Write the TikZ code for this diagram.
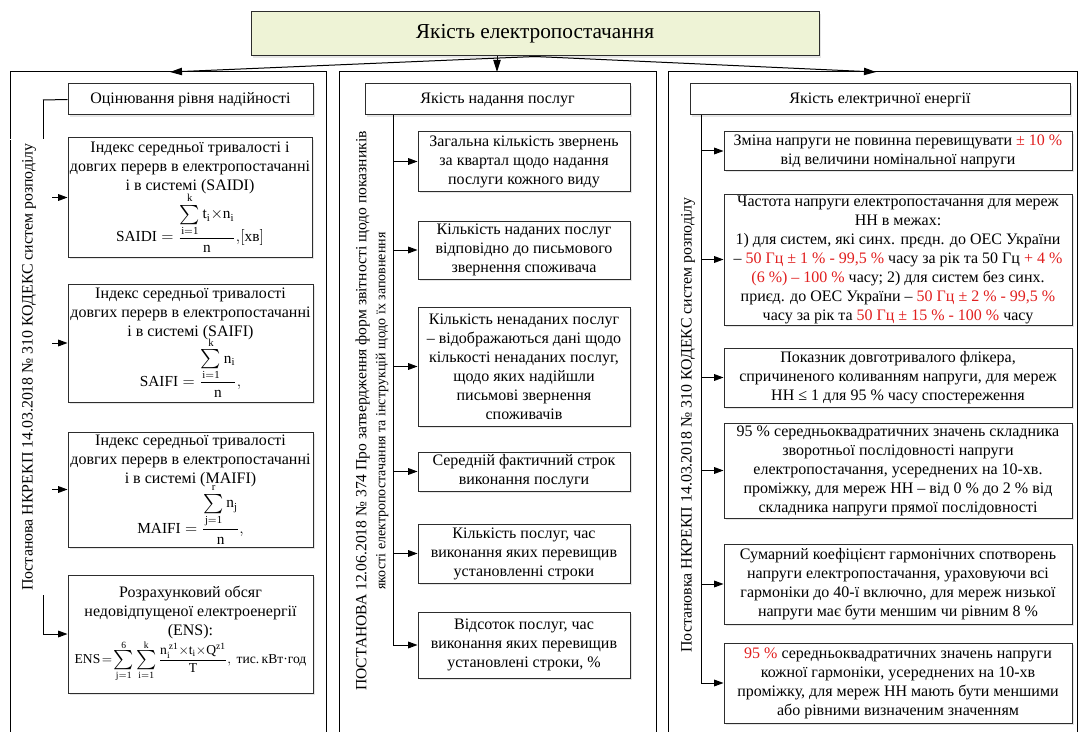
\documentclass[tikz,border=0pt]{standalone}
\usepackage{amsmath}
\usepackage{fontspec}
\setmainfont{Liberation Serif}
\setmathrm{Liberation Serif}
\usetikzlibrary{arrows.meta,shadows}
\definecolor{titlefill}{RGB}{238,243,214}
\definecolor{redt}{RGB}{225,30,30}
\definecolor{boxline}{RGB}{45,45,45}
\newcommand{\rd}[1]{\textcolor{redt}{#1}}
\newcommand{\nbox}[6]{\node[box,minimum width={(#4-#2)*0.75pt},minimum height={(#5-#3)*0.75pt}] (#1) at ({(#2+#4)/2},{(#3+#5)/2}) {#6};}
\newcommand{\fm}{\fontsize{11.5}{13}\selectfont}
\newcommand{\fe}{\fontsize{10.2}{12}\selectfont}
\newcommand{\lm}[1]{\mathrm{#1}}
\newcommand{\bsum}{\mathop{\vcenter{\hbox{\fontsize{13.5}{13.5}\selectfont$\textstyle\sum$}}}\limits}
\begin{document}
\begin{tikzpicture}[x=0.75pt,y=-0.75pt,
  box/.style={draw=boxline,line width=0.75pt,fill=white,align=center,inner sep=0pt,
    font=\fontsize{12}{14.25}\selectfont,
    drop shadow={shadow xshift=1.2pt,shadow yshift=-1.2pt,opacity=0.2}},
  frame/.style={draw=black,line width=0.75pt},
  ln/.style={line width=0.75pt},
  arr/.style={-{Triangle[length=7pt,width=5pt]},line width=0.75pt},
  arrT/.style={-{Triangle[length=9pt,width=5.5pt]},line width=0.75pt},
  side/.style={rotate=90,align=center,inner sep=3pt,font=\fontsize{11.9}{14.25}\selectfont}]
\useasboundingbox (0,0) rectangle (1080,731);
\clip (0,0) rectangle (1080,731);
% frames
\draw[frame] (10,760) -- (10,72) -- (326,72) -- (326,760);
\draw[frame] (339,760) -- (339,72) -- (656,72) -- (656,760);
\draw[frame] (668,760) -- (668,72) -- (1077,72) -- (1077,760);
\coordinate (fL) at (170,72);
\coordinate (fM) at (497,72);
\coordinate (fR) at (876,72);
% title
\node[box,fill=titlefill,font=\fontsize{16}{19}\selectfont,minimum width={(819-251)*0.75pt},minimum height={(56-12)*0.75pt}] (title) at (535,34) {Якість електропостачання};
\draw[arrT] (title.south) -- (fL);
\draw[arrT] (title.south) -- (fR);
\draw[arrT] (title.south -| fM) -- (fM);
% ---------- left column
\nbox{lh}{68}{84}{313}{115}{Оцінювання рівня надійності}
\nbox{saidi}{68}{138}{312}{257}{Індекс середньої тривалості і\\ довгих перерв в електропостачанні\\ і в системі (SAIDI)\\[-2pt]
 {\fm$\mathrm{SAIDI}=\dfrac{\bsum_{\lm{i=1}}^{\lm{k}}\mathrm{t_i{\times}n_i}}{\mathrm{n}},\!\left[\text{хв}\right]$}}
\nbox{saifi}{68}{284}{313}{402}{Індекс середньої тривалості\\ довгих перерв в електропостачанні\\ і в системі (SAIFI)\\[-3pt]
 {\fm$\mathrm{SAIFI}=\dfrac{\bsum_{\lm{i=1}}^{\lm{k}}\mathrm{n_i}}{\mathrm{n}},$}}
\nbox{maifi}{68}{432}{313}{547}{Індекс середньої тривалості\\ довгих перерв в електропостачанні\\ і в системі (MAIFI)\\[-3pt]
 {\fm$\mathrm{MAIFI}=\dfrac{\bsum_{\lm{j=1}}^{\lm{r}}\mathrm{n_j}}{\mathrm{n}},$}}
\nbox{ens}{68}{575}{313}{693}{Розрахунковий обсяг\\ недовідпущеної електроенергії\\ (ENS):\\[0pt]
 {\fe$\mathrm{ENS}\!=\!\bsum_{\lm{j=1}}^{\lm{6}}\bsum_{\lm{i=1}}^{\lm{k}}\dfrac{\mathrm{n_i^{\,z1}{\times}t_i{\times}Q^{z1}}}{\mathrm{T}},\ \text{тис.\,кВт·год}$}}
\coordinate (lv) at (43,100);
\draw[ln] (lh.west) -- (lv);
\draw[arr] (lv) |- (ens.west);
\draw[arr] (lv |- saidi.west) -- (saidi.west);
\draw[arr] (lv |- saifi.west) -- (saifi.west);
\draw[arr] (lv |- maifi.west) -- (maifi.west);
\node[side,fill=white,minimum height=46*0.75pt] (ls) at (29,367) {Постанова НКРЕКП 14.03.2018 № 310 КОДЕКС систем розподілу};
\draw[frame] (10,140) -- (10,600);
% ---------- middle column
\nbox{mh}{365}{84}{630}{115}{Якість надання послуг}
\nbox{m1}{418}{132}{630}{191}{Загальна кількість звернень\\ за квартал щодо надання\\ послуги кожного виду}
\nbox{m2}{418}{221}{630}{279}{Кількість наданих послуг\\ відповідно до письмового\\ звернення споживача}
\nbox{m3}{418}{307}{630}{426}{Кількість ненаданих послуг\\ – відображаються дані щодо\\ кількості ненаданих послуг,\\ щодо яких надійшли\\ письмові звернення\\ споживачів}
\nbox{m4}{418}{452}{630}{491}{Середній фактичний строк\\ виконання послуги}
\nbox{m5}{418}{524}{630}{583}{Кількість послуг, час\\ виконання яких перевищив\\ установленні строки}
\nbox{m6}{418}{612}{630}{678}{Відсоток послуг, час\\ виконання яких перевищив\\ установлені строки, \%}
\coordinate (mv) at (393,115);
\draw[arr] (mv) |- (m6.west);
\foreach \n in {m1,m2,m3,m4,m5} \draw[arr] (mv |- \n.west) -- (\n.west);
\node[side] (ms) at (372,411) {{\fontsize{11.7}{14.25}\selectfont ПОСТАНОВА 12.06.2018 № 374 Про затвердження форм звітності щодо показників}\\ {\fontsize{10.5}{14.25}\selectfont якості електропостачання та інструкцій щодо їх заповнення}};
% ---------- right column
\nbox{rh}{690}{84}{1070}{115}{Якість електричної енергії}
\nbox{r1}{724}{132}{1072}{170}{Зміна напруги не повинна перевищувати \rd{± 10 \%}\\ від величини номінальної напруги}
\nbox{r2}{724}{194}{1072}{325}{Частота напруги електропостачання для мереж\\ НН в межах:\\ 1) для систем, які синх. прєдн. до ОЕС України\\ – \rd{50 Гц ± 1 \% - 99,5 \%} часу за рік та 50 Гц \rd{+ 4 \%}\\ \rd{(6 \%) – 100 \%} часу; 2) для систем без синх.\\ приєд. до ОЕС України – \rd{50 Гц ± 2 \% - 99,5 \%}\\ часу за рік та \rd{50 Гц ± 15 \% - 100 \%} часу}
\nbox{r3}{724}{348}{1072}{407}{Показник довготривалого флікера,\\ спричиненого коливанням напруги, для мереж\\ НН ≤ 1 для 95 \% часу спостереження}
\nbox{r4}{724}{423}{1072}{518}{95 \% середньоквадратичних значень складника\\ зворотньої послідовності напруги\\ електропостачання, усереднених на 10-хв.\\ проміжку, для мереж НН – від 0 \% до 2 \% від\\ складника напруги прямої послідовності}
\nbox{r5}{724}{544}{1072}{624}{Сумарний коефіцієнт гармонічних спотворень\\ напруги електропостачання, ураховуючи всі\\ гармоніки до 40-ї включно, для мереж низької\\ напруги має бути меншим чи рівним 8 \%}
\nbox{r6}{724}{643}{1072}{723}{\rd{95 \%} середньоквадратичних значень напруги\\ кожної гармоніки, усереднених на 10-хв\\ проміжку, для мереж НН мають бути меншими\\ або рівними визначеним значенням}
\coordinate (rv) at (701,115);
\draw[arr] (rv) |- (r6.west);
\foreach \n in {r1,r2,r3,r4,r5} \draw[arr] (rv |- \n.west) -- (\n.west);
\node[side] (rs) at (688,425) {Постановка НКРЕКП 14.03.2018 № 310 КОДЕКС систем розподілу};
\end{tikzpicture}
\end{document}
